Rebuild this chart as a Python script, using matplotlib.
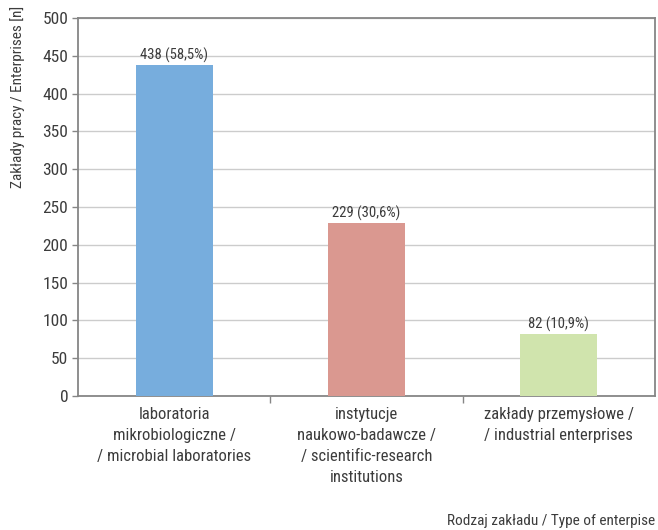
import matplotlib.pyplot as plt
import numpy as np

categories = [
    "laboratoria\nmikrobiologiczne /\n/ microbial laboratories",
    "instytucje\nnaukowo-badawcze /\n/ scientific-research\ninstitutions",
    "zakłady przemysłowe /\n/ industrial enterprises",
]
counts = [438, 229, 82]
percents = ["58,5", "30,6", "10,9"]
colors = ["#77addd", "#da9890", "#d0e4ad"]
yticks = [0, 50, 100, 150, 200, 250, 300, 350, 400, 450, 500]

plt.rcParams["font.family"] = ["Roboto Condensed", "DejaVu Sans"]
text_color = "#3c3c3c"
axis_color = "#868686"

fig = plt.figure(figsize=(6.58, 5.30), dpi=100)
ax = fig.add_axes([78 / 658, 1 - 396 / 530, (655 - 78) / 658, (396 - 18) / 530])

x = np.arange(len(counts))
bars = ax.bar(x, counts, width=0.4, color=colors, zorder=3)

for b, n, p in zip(bars, counts, percents):
    ax.text(b.get_x() + b.get_width() / 2, n + 2, f"{n} ({p}%)",
            ha="center", va="bottom", fontsize=10.5, color=text_color)

ax.set_xlim(-0.5, len(counts) - 0.5)
ax.set_ylim(0, 500)
ax.set_yticks(yticks)
ax.tick_params(axis="y", labelsize=12.5, colors=axis_color, labelcolor=text_color,
               length=4, width=1, pad=3)
ax.grid(axis="y", color="#cccccc", linewidth=1, zorder=0)

# category labels between the boundary ticks
ax.set_xticks(x)
ax.set_xticklabels(categories, fontsize=12, color=text_color, linespacing=1.5)
ax.tick_params(axis="x", length=0, pad=8)
ax.set_xticks([0.5, 1.5], minor=True)
ax.tick_params(axis="x", which="minor", length=5, width=1, color=axis_color)

for s in ax.spines.values():
    s.set_color(axis_color)
    s.set_linewidth(1.3)

fig.text(18 / 658, 1 - 97 / 530, "Zakłady pracy / Enterprises [n]", rotation=90,
         ha="center", va="center", fontsize=11, color=text_color)
fig.text(655 / 658, 1 - 521 / 530, "Rodzaj zakładu / Type of enterpise",
         ha="right", va="center", fontsize=11, color=text_color)

fig.savefig("out.png", dpi=100)
